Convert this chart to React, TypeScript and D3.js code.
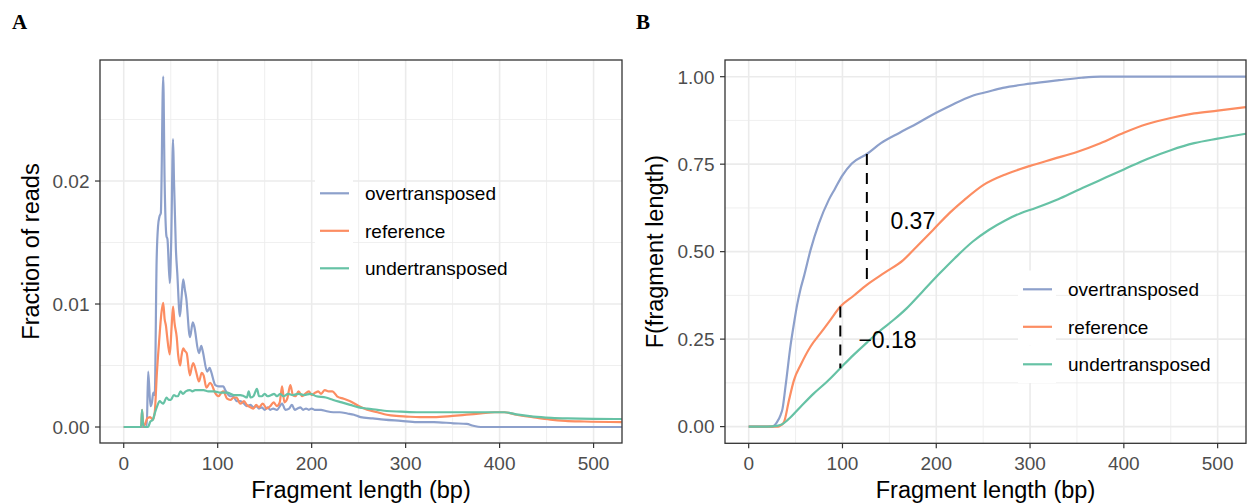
import React, { useEffect, useRef } from 'react';
import * as d3 from 'd3';

// ---- data ----
const seriesNames = ['overtransposed', 'reference', 'undertransposed'];
const seriesColors = ['#8DA0CB', '#FC8D62', '#66C2A5'];

// panel A: fraction of reads by fragment length, [bp, fraction]
const overDensity: [number, number][] = [
  [0, 0], [24.5, 0], [26, 0.0045], [28.5, 0.0017], [30, 0.002], [31.5, 0.0028], [33, 0.0026],
  [35, 0.0135], [36.5, 0.0163], [38, 0.0171], [39.5, 0.0174], [42, 0.0285], [43.5, 0.02],
  [45.5, 0.0155], [46.5, 0.0153], [49, 0.0117], [50.5, 0.015], [52.5, 0.0234], [53.5, 0.02],
  [55.5, 0.0145], [57, 0.0125], [59.8, 0.009], [61.5, 0.0105], [63.3, 0.012], [65, 0.0112],
  [66.5, 0.0105], [70.5, 0.0073], [73.5, 0.0085], [75, 0.0082], [80, 0.006], [82.5, 0.0066],
  [84, 0.0062], [88.8, 0.0045], [91.5, 0.0048], [93, 0.0045], [97.5, 0.0034], [101, 0.0033],
  [106, 0.0033], [108, 0.003], [113.5, 0.0025], [116, 0.0025], [120.5, 0.0021], [124, 0.0021],
  [128, 0.0019], [131, 0.0017], [135, 0.0018], [138, 0.0016], [141, 0.0017], [144, 0.0015],
  [147, 0.0016], [150, 0.0014], [153, 0.0016], [156, 0.0014], [159, 0.0015], [163, 0.0014],
  [168.5, 0.0019], [172, 0.0014], [176, 0.0015], [179, 0.0018], [182, 0.0014], [185, 0.0015],
  [188, 0.0016], [191, 0.0014], [194, 0.0015], [197, 0.0014], [200, 0.0015], [203, 0.0014],
  [206, 0.0014], [210, 0.0014], [215, 0.0013], [223, 0.0012], [230, 0.0012], [238, 0.0011],
  [245, 0.001], [252, 0.0008], [265, 0.0007], [277, 0.0006], [295, 0.0005], [312, 0.0004],
  [330, 0.0004], [351, 0.0003], [365, 0.00025], [372, 0.0001], [380, 0], [530, 0],
];

const refDensity: [number, number][] = [
  [0, 0], [18.5, 0], [19.5, 0.0014], [21, 0], [23, 0.0003], [25, 0.0007], [28, 0.0008],
  [31, 0.0006], [33, 0.0012], [35.3, 0.0044], [37.8, 0.0071], [40, 0.0092], [42, 0.0101],
  [43.5, 0.0088], [45, 0.0082], [46, 0.0075], [49, 0.0059], [51, 0.0082], [52.5, 0.0098],
  [54, 0.0085], [56.4, 0.0073], [58, 0.0058], [60, 0.005], [61.5, 0.0058], [63.3, 0.0064],
  [65, 0.0062], [67, 0.006], [70.4, 0.0042], [72.5, 0.0049], [74, 0.0052], [77, 0.0045],
  [80, 0.0037], [83, 0.0044], [85, 0.0042], [88, 0.0032], [92, 0.0036], [94, 0.0034],
  [97, 0.0028], [101, 0.0025], [104, 0.0028], [106, 0.0029], [110, 0.0023], [113.5, 0.0022],
  [117, 0.0024], [120, 0.0024], [124, 0.0019], [128, 0.0021], [131, 0.0018], [135, 0.0016],
  [138, 0.0015], [141, 0.0018], [144, 0.0016], [148, 0.0019], [152, 0.0015], [156, 0.0017],
  [159.5, 0.002], [163, 0.0017], [166, 0.002], [168.5, 0.0033], [171, 0.002], [174, 0.0023],
  [177.3, 0.0034], [180, 0.0026], [182.7, 0.0025], [186, 0.0029], [190, 0.0025], [193, 0.0027],
  [197, 0.0029], [200, 0.0026], [204, 0.0028], [207, 0.0029], [210, 0.0027], [214, 0.003],
  [218, 0.0029], [222, 0.0029], [227, 0.0025], [234, 0.0023], [241, 0.0021], [250, 0.0017],
  [259, 0.0014], [270, 0.0012], [280, 0.001], [290, 0.0009], [301, 0.00085], [315, 0.0008],
  [330, 0.0008], [350, 0.0009], [365, 0.001], [380, 0.0011], [395, 0.0012], [405, 0.0012],
  [418, 0.001], [435, 0.0008], [454, 0.0006], [470, 0.0005], [490, 0.00045], [530, 0.0004],
];

const underDensity: [number, number][] = [
  [0, 0], [18.5, 0], [19.5, 0.0014], [20.5, 0.0003], [22, 0], [26, 0], [28, 0.0004],
  [31, 0.0006], [33, 0.0011], [35.6, 0.0017], [38.4, 0.0021], [40, 0.002], [42, 0.0019],
  [45.6, 0.0024], [48, 0.0022], [50, 0.0022], [53.4, 0.0026], [56, 0.0025], [57.5, 0.0025],
  [60.5, 0.0029], [63, 0.0027], [66, 0.0029], [70.4, 0.003], [73, 0.0029], [76, 0.003],
  [80, 0.003], [85, 0.003], [90, 0.0029], [96, 0.0029], [103, 0.0028], [110, 0.0028],
  [117, 0.0026], [124, 0.0026], [128, 0.0025], [131, 0.0024], [133, 0.0029], [135, 0.0024],
  [138, 0.0025], [141.8, 0.0031], [144, 0.0025], [147, 0.0025], [150, 0.0027], [153, 0.0025],
  [157, 0.0026], [160, 0.0027], [163, 0.0025], [166.5, 0.0027], [170, 0.0025], [175, 0.0027],
  [180, 0.0026], [186, 0.0027], [192, 0.0026], [198.6, 0.0027], [205, 0.0025], [215, 0.0024],
  [223, 0.0022], [232, 0.002], [241, 0.0018], [250, 0.0016], [259, 0.0015], [270, 0.0014],
  [280, 0.0013], [295, 0.00125], [312, 0.0012], [330, 0.0012], [350, 0.0012], [370, 0.0012],
  [390, 0.0012], [405, 0.0012], [420, 0.001], [436, 0.00085], [455, 0.00075], [472, 0.0007],
  [500, 0.00066], [530, 0.00065],
];

// panel B: cumulative fraction, [bp, F]
const overCdf: [number, number][] = [
  [0, 0], [25, 0], [30, 0.012], [34, 0.033], [36, 0.05], [39.5, 0.12], [44.8, 0.235],
  [48.3, 0.295], [51.8, 0.35], [55, 0.39], [59, 0.43], [66, 0.505], [74.8, 0.58], [85.4, 0.648],
  [92, 0.68], [100, 0.718], [110, 0.752], [126, 0.779], [141, 0.81], [161, 0.84], [180, 0.867],
  [195, 0.89], [215, 0.917], [238, 0.945], [255, 0.957], [271, 0.968], [300, 0.98], [331, 0.99],
  [355, 0.997], [375, 1], [530, 1],
];

const refCdf: [number, number][] = [
  [0, 0], [31.5, 0], [34.5, 0.004], [37.8, 0.014], [43, 0.076], [48.3, 0.133], [55.4, 0.176],
  [66, 0.229], [76.6, 0.267], [87.2, 0.305], [97.7, 0.343], [111.9, 0.374], [126, 0.405],
  [145, 0.44], [164.8, 0.476], [179, 0.514], [196.6, 0.562], [214, 0.61], [230, 0.648],
  [250, 0.69], [275, 0.722], [300, 0.745], [325, 0.765], [350, 0.785], [375, 0.81], [400, 0.84],
  [425, 0.865], [450, 0.882], [475, 0.895], [500, 0.903], [530, 0.913],
];

const underCdf: [number, number][] = [
  [0, 0], [20, 0], [30, 0.002], [34.6, 0.005], [41.6, 0.019], [55.4, 0.057], [69.5, 0.095],
  [83.7, 0.129], [97.7, 0.167], [111.9, 0.205], [126, 0.24], [140, 0.274], [155, 0.306],
  [168.4, 0.338], [185, 0.385], [203.7, 0.438], [220, 0.482], [239, 0.529], [256, 0.562],
  [274, 0.59], [290, 0.61], [306, 0.625], [330, 0.65], [350, 0.675], [375, 0.705],
  [400, 0.735], [425, 0.765], [450, 0.79], [475, 0.81], [500, 0.823], [530, 0.837],
];

const xTicks = [0, 100, 200, 300, 400, 500];
const xMinor = [50, 150, 250, 350, 450];
const densityTicks = [0, 0.01, 0.02];
const densityMinor = [0.005, 0.015, 0.025];
const cdfTicks = [0, 0.25, 0.5, 0.75, 1];
const cdfMinor = [0.125, 0.375, 0.625, 0.875];

// dashed differences drawn on panel B
const gaps = [
  { x: 126, from: 0.405, to: 0.779, label: '0.37', lx: 175, ly: 0.588 },
  { x: 97.7, from: 0.167, to: 0.343, label: '\u22120.18', lx: 148, ly: 0.248 },
];

const SANS = "'Liberation Sans', Arial, Helvetica, sans-serif";
const SERIF = "'Liberation Serif', 'Times New Roman', serif";

const drawPanel = (svg, opt) => {
  const { box, yDomain, yTicks, yMinor, yFormat, series, yTitle, legend } = opt;
  const x = d3.scaleLinear().domain([-25.25, 530.25]).range([box.left, box.right]);
  const y = d3.scaleLinear().domain(yDomain).range([box.bottom, box.top]);

  const g = svg.append('g');
  const clipId = `clip-${opt.id}`;
  g.append('clipPath').attr('id', clipId)
    .append('rect')
    .attr('x', box.left).attr('y', box.top)
    .attr('width', box.right - box.left).attr('height', box.bottom - box.top);

  g.append('rect')
    .attr('x', box.left).attr('y', box.top)
    .attr('width', box.right - box.left).attr('height', box.bottom - box.top)
    .attr('fill', '#fff');

  // grid
  const grid = g.append('g');
  grid.selectAll('.vmin').data(xMinor).join('line')
    .attr('x1', (d) => x(d)).attr('x2', (d) => x(d))
    .attr('y1', box.top).attr('y2', box.bottom)
    .attr('stroke', '#EBEBEB').attr('stroke-width', 0.8);
  grid.selectAll('.hmin').data(yMinor).join('line')
    .attr('y1', (d) => y(d)).attr('y2', (d) => y(d))
    .attr('x1', box.left).attr('x2', box.right)
    .attr('stroke', '#EBEBEB').attr('stroke-width', 0.8);
  grid.selectAll('.vmaj').data(xTicks).join('line')
    .attr('x1', (d) => x(d)).attr('x2', (d) => x(d))
    .attr('y1', box.top).attr('y2', box.bottom)
    .attr('stroke', '#EBEBEB').attr('stroke-width', 1.6);
  grid.selectAll('.hmaj').data(yTicks).join('line')
    .attr('y1', (d) => y(d)).attr('y2', (d) => y(d))
    .attr('x1', box.left).attr('x2', box.right)
    .attr('stroke', '#EBEBEB').attr('stroke-width', 1.6);

  // legend key backgrounds sit over the grid
  const keyH = 37.5;
  g.selectAll('.key').data(seriesNames).join('rect')
    .attr('x', legend.x).attr('y', (d, i) => legend.y + i * keyH - keyH / 2)
    .attr('width', 38).attr('height', keyH)
    .attr('fill', '#fff');

  const line = d3.line().x((d) => x(d[0])).y((d) => y(d[1])).curve(d3.curveMonotoneX);
  const lines = g.append('g').attr('clip-path', `url(#${clipId})`);
  series.forEach((s, i) => {
    lines.append('path')
      .attr('d', line(s))
      .attr('fill', 'none')
      .attr('stroke', seriesColors[i])
      .attr('stroke-width', 2.2)
      .attr('stroke-linejoin', 'round');
  });

  if (opt.gaps) {
    opt.gaps.forEach((d) => {
      g.append('line')
        .attr('x1', x(d.x)).attr('x2', x(d.x))
        .attr('y1', y(d.to)).attr('y2', y(d.from))
        .attr('stroke', '#000').attr('stroke-width', 2)
        .attr('stroke-dasharray', '11,8');
      g.append('text')
        .attr('x', x(d.lx)).attr('y', y(d.ly))
        .attr('dy', '0.36em')
        .attr('text-anchor', 'middle')
        .style('font-family', SANS).style('font-size', '23px')
        .text(d.label);
    });
  }

  // legend
  seriesNames.forEach((name, i) => {
    const cy = legend.y + i * keyH;
    g.append('line')
      .attr('x1', legend.x + 5).attr('x2', legend.x + 34)
      .attr('y1', cy).attr('y2', cy)
      .attr('stroke', seriesColors[i]).attr('stroke-width', 2.2);
    g.append('text')
      .attr('x', legend.x + 50).attr('y', cy).attr('dy', '0.36em')
      .style('font-family', SANS).style('font-size', '19px')
      .attr('fill', '#000')
      .text(name);
  });

  // border
  g.append('rect')
    .attr('x', box.left).attr('y', box.top)
    .attr('width', box.right - box.left).attr('height', box.bottom - box.top)
    .attr('fill', 'none').attr('stroke', '#333').attr('stroke-width', 1.3);

  // ticks and labels
  g.selectAll('.xt').data(xTicks).join('line')
    .attr('x1', (d) => x(d)).attr('x2', (d) => x(d))
    .attr('y1', box.bottom).attr('y2', box.bottom + 5)
    .attr('stroke', '#333').attr('stroke-width', 1.2);
  g.selectAll('.xl').data(xTicks).join('text')
    .attr('x', (d) => x(d)).attr('y', box.bottom + 27)
    .attr('text-anchor', 'middle')
    .style('font-family', SANS).style('font-size', '19px')
    .attr('fill', '#4D4D4D')
    .text((d) => d);
  g.selectAll('.yt').data(yTicks).join('line')
    .attr('y1', (d) => y(d)).attr('y2', (d) => y(d))
    .attr('x1', box.left - 5).attr('x2', box.left)
    .attr('stroke', '#333').attr('stroke-width', 1.2);
  g.selectAll('.yl').data(yTicks).join('text')
    .attr('y', (d) => y(d)).attr('x', box.left - 10.5).attr('dy', '0.36em')
    .attr('text-anchor', 'end')
    .style('font-family', SANS).style('font-size', '19px')
    .attr('fill', '#4D4D4D')
    .text((d) => yFormat(d));

  // axis titles
  g.append('text')
    .attr('x', (box.left + box.right) / 2).attr('y', 498)
    .attr('text-anchor', 'middle')
    .style('font-family', SANS).style('font-size', '23.5px')
    .text('Fragment length (bp)');
  g.append('text')
    .attr('transform', `translate(${opt.yTitleX},${(box.top + box.bottom) / 2}) rotate(-90)`)
    .attr('text-anchor', 'middle')
    .style('font-family', SANS).style('font-size', '23.5px')
    .text(yTitle);

  g.append('text')
    .attr('x', opt.tagX).attr('y', 29)
    .style('font-family', SERIF).style('font-size', '21px').style('font-weight', 'bold')
    .text(opt.id);
};

const App = () => {
  const ref = useRef(null);

  useEffect(() => {
    const svg = d3.select(ref.current);
    svg.selectAll('*').remove();

    drawPanel(svg, {
      id: 'A',
      tagX: 12,
      box: { left: 100, right: 622, top: 60, bottom: 443 },
      yDomain: [-0.0013, 0.02984],
      yTicks: densityTicks,
      yMinor: densityMinor,
      yFormat: d3.format('.2f'),
      series: [overDensity, refDensity, underDensity],
      yTitle: 'Fraction of reads',
      yTitleX: 39,
      legend: { x: 315, y: 193.3 },
    });

    drawPanel(svg, {
      id: 'B',
      tagX: 636,
      box: { left: 725, right: 1246, top: 60, bottom: 443.3 },
      yDomain: [-0.0477, 1.0477],
      yTicks: cdfTicks,
      yMinor: cdfMinor,
      yFormat: d3.format('.2f'),
      series: [overCdf, refCdf, underCdf],
      yTitle: 'F(fragment length)',
      yTitleX: 663,
      legend: { x: 1018, y: 289.3 },
      gaps,
    });
  }, []);

  return (
    <svg ref={ref} width={1248} height={504} style={{ display: 'block', position: 'absolute', left: 0, top: 0 }} />
  );
};

export default App;
